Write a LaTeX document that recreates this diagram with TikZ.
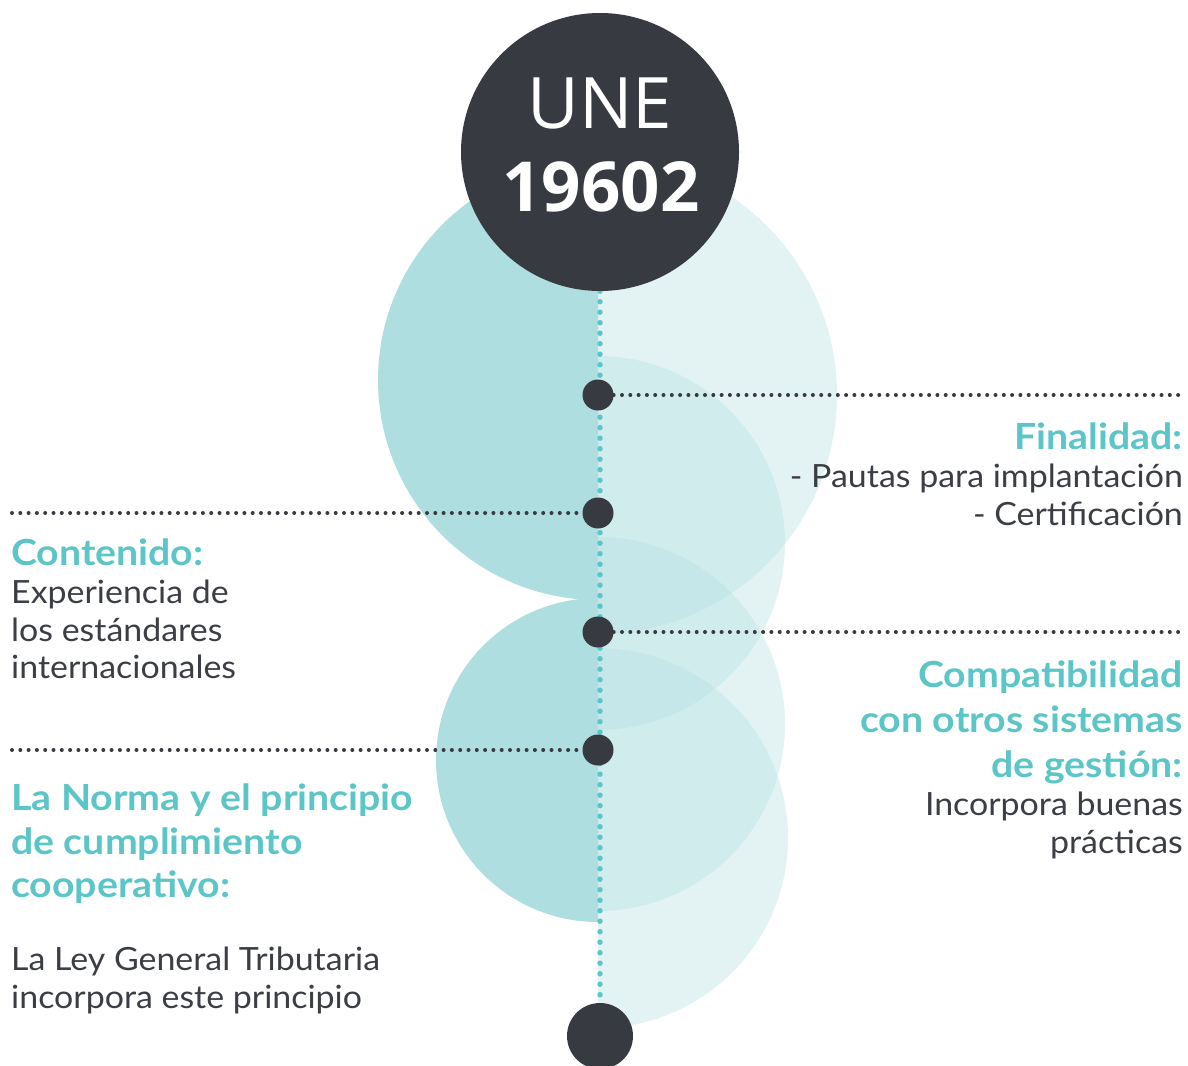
\documentclass[tikz,border=0pt]{standalone}
\usepackage{fontspec}
\setmainfont{Lato}
\newfontfamily\bodyfont{Lato}[FakeStretch=1.06]
\newfontfamily\headfont{Lato}[FakeStretch=1.09]
\newfontfamily\osans{Open Sans}
\usetikzlibrary{backgrounds}
\definecolor{dark}{HTML}{373A40}
\definecolor{tealtext}{HTML}{5BC5C8}
\definecolor{bodytext}{HTML}{3B3E44}
\definecolor{halfc}{HTML}{AFDEE0}
\definecolor{vdot}{HTML}{5BC6C9}
\tikzset{
  bigc/.style={circle, fill=dark, minimum size=278pt, inner sep=0pt},
  dotc/.style={circle, fill=dark, minimum size=31pt, inner sep=0pt},
  endc/.style={circle, fill=dark, minimum size=66pt, inner sep=0pt},
  lefthalf/.style={fill=halfc},
  righthalf/.style={fill=halfc, fill opacity=0.35},
  vline/.style={draw=vdot, line width=5.5pt, line cap=round, dash pattern=on 0pt off 10.5pt},
  hline/.style={draw=dark, line width=4pt, line cap=round, dash pattern=on 0pt off 8.3pt},
  head/.style={text=tealtext, font=\headfont\bfseries\fontsize{36}{36}\selectfont, inner sep=0pt},
  body/.style={text=bodytext, font=\bodyfont\fontsize{32}{32}\selectfont, inner sep=0pt},
}
\begin{document}
\begin{tikzpicture}[x=1pt,y=-1pt]
\useasboundingbox (0,0) rectangle (1188,1065);
% main nodes
\node[bigc] (une) at (600,152) {};
\node[anchor=base, text=white, font=\osans\fontsize{71}{71}\selectfont, inner sep=0pt] (unet) at (600,128) {UNE};
\node[anchor=base, text=white, font=\osans\bfseries\fontsize{69}{69}\selectfont, inner sep=0pt] (numt) at (601,211) {19602};
\node[dotc] (d1) at (598,395) {};
\node[dotc] (d2) at (598,513) {};
\node[dotc] (d3) at (598,632) {};
\node[dotc] (d4) at (598,750) {};
\node[endc] (end) at (600,1036) {};
\coordinate (e1) at (1186,395);
\coordinate (e2) at (12,513);
\coordinate (e3) at (1186,632);
\coordinate (e4) at (12,750);
\begin{scope}[on background layer]
  \begin{scope}
    \clip (0,0) rectangle (598,1065);
    \fill[lefthalf] (598,380) circle[radius=220pt];
    \fill[lefthalf] (598,760) circle[radius=162pt];
  \end{scope}
  \begin{scope}
    \clip (598,0) rectangle (1188,1065);
    \fill[righthalf] (598,395) circle[radius=239pt];
    \fill[righthalf] (598,543) circle[radius=187pt];
    \fill[righthalf] (598,724) circle[radius=187pt];
    \fill[righthalf] (598,838) circle[radius=190pt];
  \end{scope}
  \draw[vline] (une.south) -- (end.north);
  \draw[hline] (d1.east) -- (e1);
  \draw[hline] (e2) -- (d2.west);
  \draw[hline] (d3.east) -- (e3);
  \draw[hline] (e4) -- (d4.west);
\end{scope}
% right texts
\node[head, anchor=base east] (t1) at (1183,449) {Finalidad:};
\node[body, anchor=base east] (t2) at (1183,487) {- Pautas para implantación};
\node[body, anchor=base east] (t3) at (1183,525) {- Certificación};
\node[head, anchor=base east] (t4) at (1183,687) {Compatibilidad};
\node[head, anchor=base east] (t5) at (1183,732) {con otros sistemas};
\node[head, anchor=base east] (t6) at (1183,777) {de gestión:};
\node[body, anchor=base east] (t7) at (1183,815) {Incorpora buenas};
\node[body, anchor=base east] (t8) at (1183,853) {prácticas};
% left texts
\node[head, anchor=base west] (l1) at (11,565) {Contenido:};
\node[body, anchor=base west] (l2) at (11,603) {Experiencia de};
\node[body, anchor=base west] (l3) at (11,641) {los estándares};
\node[body, anchor=base west] (l4) at (11,678) {internacionales};
\node[head, anchor=base west] (l5) at (11,810) {La Norma y el principio};
\node[head, anchor=base west] (l6) at (11,854) {de cumplimiento};
\node[head, anchor=base west] (l7) at (11,897) {cooperativo:};
\node[body, anchor=base west] (l8) at (11,970) {La Ley General Tributaria};
\node[body, anchor=base west] (l9) at (11,1008) {incorpora este principio};
\end{tikzpicture}
\end{document}
